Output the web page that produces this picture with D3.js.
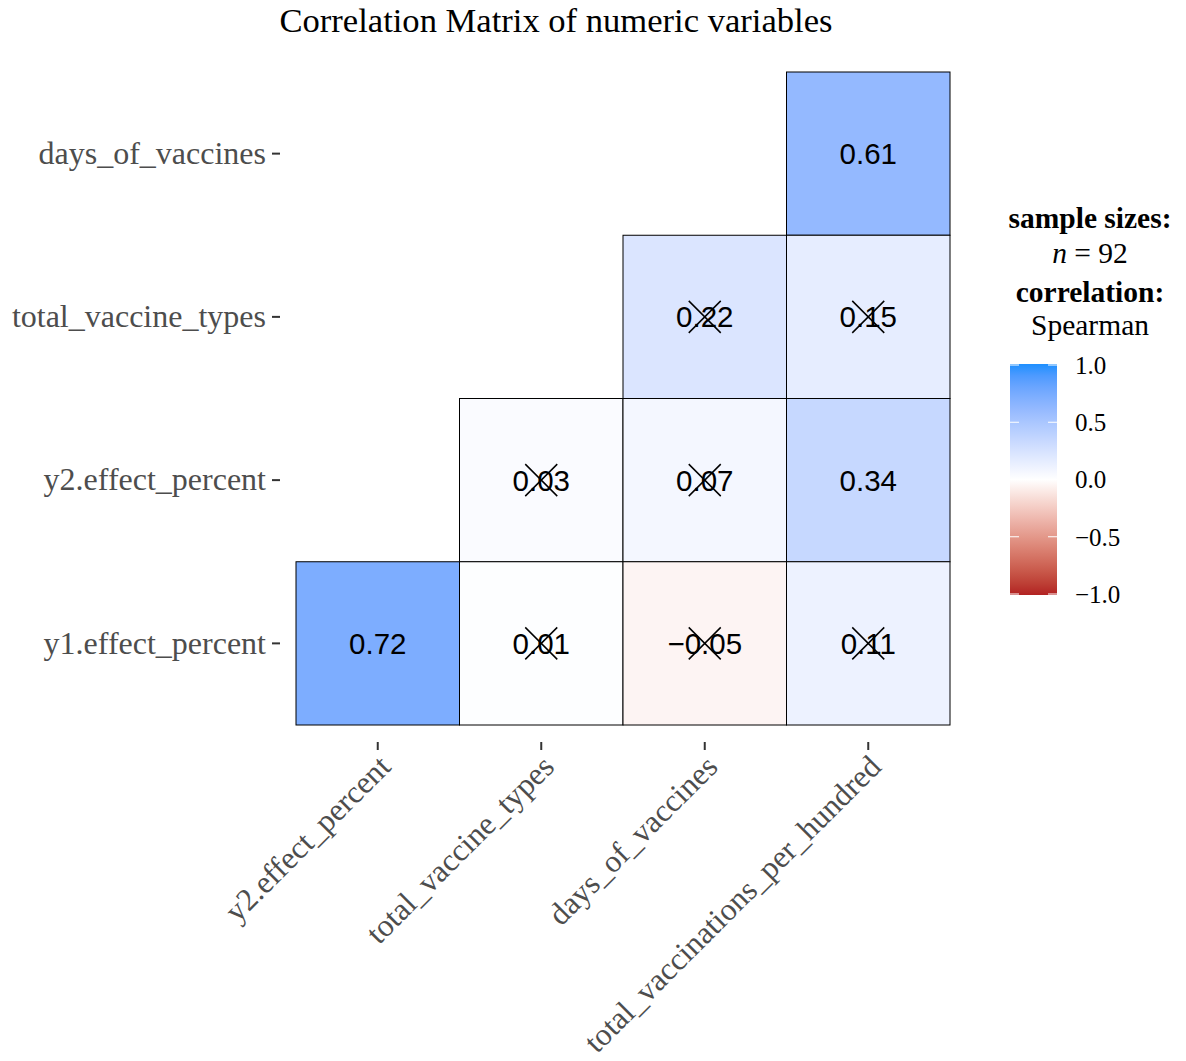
<!DOCTYPE html>
<html>
<head>
<meta charset="utf-8">
<script src="https://cdn.jsdelivr.net/npm/d3@7"></script>
<style>
  body { margin: 0; background: #fff; }
  text { font-family: "Liberation Serif", "Times New Roman", serif; }
</style>
</head>
<body>
<div id="chart-area"></div>
<script>
// DATA
const colVars = ["y2.effect_percent", "total_vaccine_types", "days_of_vaccines", "total_vaccinations_per_hundred"]
const rowVars = ["days_of_vaccines", "total_vaccine_types", "y2.effect_percent", "y1.effect_percent"]
// one entry per drawn tile: [row, column, r, significant]
const cellRow = ["days_of_vaccines", "total_vaccine_types", "total_vaccine_types",
  "y2.effect_percent", "y2.effect_percent", "y2.effect_percent",
  "y1.effect_percent", "y1.effect_percent", "y1.effect_percent", "y1.effect_percent"]
const cellCol = ["total_vaccinations_per_hundred", "days_of_vaccines", "total_vaccinations_per_hundred",
  "total_vaccine_types", "days_of_vaccines", "total_vaccinations_per_hundred",
  "y2.effect_percent", "total_vaccine_types", "days_of_vaccines", "total_vaccinations_per_hundred"]
const cellR = [0.61, 0.22, 0.15, 0.03, 0.07, 0.34, 0.72, 0.01, -0.05, 0.11]
const cellSig = [true, false, false, false, false, true, true, false, false, false]
const legendTicks = [1.0, 0.5, 0.0, -0.5, -1.0]

const cells = cellR.map((r, i) => ({ row: cellRow[i], col: cellCol[i], r: r, sig: cellSig[i] }))

// CHART AREA
const W = 1186, H = 1061
const svg = d3.select("#chart-area").append("svg")
  .attr("width", W)
  .attr("height", H)

const panel = { left: 296, right: 950, top: 72, bottom: 725 }

const xScale = d3.scaleBand().domain(colVars).range([panel.left, panel.right])
const yScale = d3.scaleBand().domain(rowVars).range([panel.top, panel.bottom])

// red - white - blue, interpolated in Lab like ggplot's gradient2
const colorScale = d3.scaleLinear()
  .domain([-1, 0, 1])
  .range(["#B22222", "#FFFFFF", "#1E90FF"])
  .interpolate(d3.interpolateLab)

// Title
svg.append("text")
  .attr("x", 556)
  .attr("y", 32)
  .attr("text-anchor", "middle")
  .attr("font-size", "34.6px")
  .attr("fill", "#000")
  .text("Correlation Matrix of numeric variables")

// TILES
const tiles = svg.append("g").attr("class", "tiles")
tiles.selectAll("rect")
  .data(cells)
  .enter().append("rect")
    .attr("x", d => xScale(d.col))
    .attr("y", d => yScale(d.row))
    .attr("width", xScale.bandwidth())
    .attr("height", yScale.bandwidth())
    .attr("fill", d => colorScale(d.r))
    .attr("stroke", "#000")
    .attr("stroke-width", 1)

tiles.selectAll("text.val")
  .data(cells)
  .enter().append("text")
    .attr("class", "val")
    .attr("x", d => xScale(d.col) + xScale.bandwidth() / 2)
    .attr("y", d => yScale(d.row) + yScale.bandwidth() / 2)
    .attr("dy", "0.36em")
    .attr("text-anchor", "middle")
    .style("font-family", "'Liberation Sans', Arial, sans-serif")
    .attr("font-size", "29.5px")
    .attr("fill", "#000")
    .text(d => d3.format(".2f")(d.r).replace("-", "\u2212"))

// crosses over non-significant correlations
const cs = 16
const nonSig = cells.filter(d => !d.sig)
tiles.selectAll("path.cross")
  .data(nonSig)
  .enter().append("path")
    .attr("class", "cross")
    .attr("d", d => {
      const cx = xScale(d.col) + xScale.bandwidth() / 2
      const cy = yScale(d.row) + yScale.bandwidth() / 2
      return `M${cx - cs},${cy - cs}L${cx + cs},${cy + cs}M${cx - cs},${cy + cs}L${cx + cs},${cy - cs}`
    })
    .attr("stroke", "#000")
    .attr("stroke-width", 1.5)
    .attr("fill", "none")

// AXES
const yAxis = svg.append("g")
  .attr("transform", "translate(280,0)")
  .call(d3.axisLeft(yScale).tickSize(8).tickPadding(6))
yAxis.select(".domain").remove()
yAxis.selectAll(".tick line").attr("stroke", "#333").attr("stroke-width", 2)
yAxis.selectAll(".tick text")
  .attr("font-size", "32px")
  .attr("fill", "#4D4D4D")
  .attr("font-family", "'Liberation Serif', 'Times New Roman', serif")

const xAxis = svg.append("g")
  .attr("transform", "translate(0,742)")
  .call(d3.axisBottom(xScale).tickSize(8).tickPadding(6))
xAxis.select(".domain").remove()
xAxis.selectAll(".tick line").attr("stroke", "#333").attr("stroke-width", 2)
xAxis.selectAll(".tick text")
  .attr("font-size", "31.5px")
  .attr("fill", "#4D4D4D")
  .attr("font-family", "'Liberation Serif', 'Times New Roman', serif")
  .attr("text-anchor", "end")
  .attr("x", 0)
  .attr("y", 0)
  .attr("dy", "0.7em")
  .attr("transform", "translate(-1,11) rotate(-45)")

// LEGEND
const lg = svg.append("g").attr("class", "legend")
const lx = 1090
lg.append("text").attr("x", lx).attr("y", 228).attr("text-anchor", "middle")
  .attr("font-size", "29.5px").attr("font-weight", "bold").text("sample sizes:")
const nText = lg.append("text").attr("x", lx).attr("y", 263).attr("text-anchor", "middle")
  .attr("font-size", "29.5px")
nText.append("tspan").attr("font-style", "italic").text("n")
nText.append("tspan").text(" = 92")
lg.append("text").attr("x", lx).attr("y", 302).attr("text-anchor", "middle")
  .attr("font-size", "29.5px").attr("font-weight", "bold").text("correlation:")
lg.append("text").attr("x", lx).attr("y", 335).attr("text-anchor", "middle")
  .attr("font-size", "29.5px").text("Spearman")

const legendScale = d3.scaleLinear().domain([-1, 1]).range([594, 365])
const barX = 1010, barW = 47

const grad = svg.append("defs").append("linearGradient")
  .attr("id", "corr-grad")
  .attr("x1", 0).attr("y1", 1).attr("x2", 0).attr("y2", 0)
d3.range(-1, 1.0001, 0.1).forEach(v => {
  grad.append("stop")
    .attr("offset", (v + 1) / 2)
    .attr("stop-color", colorScale(v))
})
lg.append("rect")
  .attr("x", barX)
  .attr("y", legendScale(1) - 1)
  .attr("width", barW)
  .attr("height", legendScale(-1) - legendScale(1) + 2)
  .attr("fill", "url(#corr-grad)")

lg.selectAll("line.tl")
  .data(legendTicks)
  .enter().append("line")
    .attr("class", "tl")
    .attr("x1", barX).attr("x2", barX + 9)
    .attr("y1", d => legendScale(d)).attr("y2", d => legendScale(d))
    .attr("stroke", "#fff").attr("stroke-width", 1)
lg.selectAll("line.tr")
  .data(legendTicks)
  .enter().append("line")
    .attr("class", "tr")
    .attr("x1", barX + barW - 9).attr("x2", barX + barW)
    .attr("y1", d => legendScale(d)).attr("y2", d => legendScale(d))
    .attr("stroke", "#fff").attr("stroke-width", 1)
lg.selectAll("text.tick")
  .data(legendTicks)
  .enter().append("text")
    .attr("class", "tick")
    .attr("x", 1075)
    .attr("y", d => legendScale(d))
    .attr("dy", "0.35em")
    .attr("font-size", "25px")
    .text(d => d3.format(".1f")(d).replace("-", "\u2013"))
</script>
</body>
</html>
